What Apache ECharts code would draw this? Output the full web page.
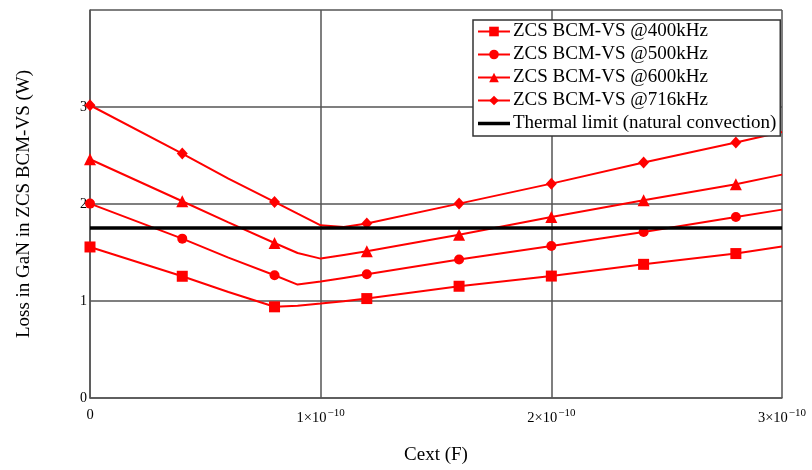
<!DOCTYPE html>
<html>
<head>
<meta charset="utf-8">
<script src="https://cdn.jsdelivr.net/npm/echarts@6/dist/echarts.min.js"></script>
<style>html,body{margin:0;padding:0;background:#fff;}#c{width:812px;height:470px;}</style>
</head>
<body>
<div id="c"></div>
<script>
// Cext in units of 1e-12 F (pF)
var cext = [0, 40, 60, 80, 90, 100, 110, 120, 160, 200, 240, 280, 300];
var markerCext = [0, 40, 80, 120, 160, 200, 240, 280];
var loss400 = [1.557, 1.255, 1.093, 0.940, 0.950, 0.973, 0.998, 1.025, 1.152, 1.257, 1.378, 1.489, 1.562];
var loss500 = [2.004, 1.643, 1.447, 1.265, 1.169, 1.200, 1.238, 1.275, 1.427, 1.567, 1.711, 1.866, 1.942];
var loss600 = [2.461, 2.028, 1.810, 1.598, 1.495, 1.437, 1.475, 1.512, 1.684, 1.866, 2.038, 2.203, 2.303];
var loss716 = [3.018, 2.520, 2.262, 2.021, 1.900, 1.780, 1.763, 1.800, 2.004, 2.210, 2.427, 2.633, 2.742];
var thermalLimit = 1.753;
var seriesNames = ['ZCS BCM-VS @400kHz', 'ZCS BCM-VS @500kHz', 'ZCS BCM-VS @600kHz', 'ZCS BCM-VS @716kHz'];
var thermalName = 'Thermal limit (natural convection)';
var xTickLabels = {0: '0', 100: '1×10', 200: '2×10', 300: '3×10'};
var xTickExp = '−10';

var serif = 'Liberation Serif';
var red = '#ff0000';
var symbols = ['rect', 'circle', 'triangle', 'diamond'];
var symbolSizes = [11, 10, 12, [11, 12]];
var lossSets = [loss400, loss500, loss600, loss716];

function buildData(vals) {
  return cext.map(function (x, i) {
    var item = {value: [x, vals[i]]};
    if (markerCext.indexOf(x) < 0) item.symbol = 'none';
    return item;
  });
}

var series = lossSets.map(function (vals, k) {
  return {
    name: seriesNames[k],
    type: 'line',
    data: buildData(vals),
    symbol: symbols[k],
    symbolSize: symbolSizes[k],
    showSymbol: true,
    lineStyle: {color: red, width: 2},
    itemStyle: {color: red},
    animation: false,
    z: 3
  };
});
series.push({
  name: thermalName,
  type: 'line',
  data: [[0, thermalLimit], [300, thermalLimit]],
  symbol: 'none',
  lineStyle: {color: '#000', width: 3.5},
  itemStyle: {color: '#000'},
  animation: false,
  z: 4
});

var legendData = seriesNames.map(function (n) { return {name: n}; });
legendData.push({name: thermalName, icon: 'path://M0,0H32V3.5H0Z'});

var chart = echarts.init(document.getElementById('c'), null, {renderer: 'canvas'});
chart.setOption({
  backgroundColor: '#fff',
  animation: false,
  grid: {left: 90, right: 30, top: 10, bottom: 72, containLabel: false},
  legend: {
    left: 473, top: 20,
    orient: 'vertical',
    backgroundColor: '#fff',
    borderColor: '#333',
    borderWidth: 1.5,
    padding: [2, 4, 3, 4],
    itemGap: 4,
    itemWidth: 32,
    itemHeight: 12,
    textStyle: {fontFamily: serif, fontSize: 19, color: '#000', padding: [0, 0, 0, -2], width: 252, overflow: 'none'},
    data: legendData,
    z: 10
  },
  xAxis: {
    type: 'value',
    min: 0, max: 300, interval: 100,
    name: 'Cext (F)',
    nameLocation: 'middle',
    nameGap: 48,
    nameTextStyle: {fontFamily: serif, fontSize: 19, color: '#000'},
    axisLine: {show: true, lineStyle: {color: '#555', width: 1.5}},
    axisTick: {show: false},
    splitLine: {show: true, lineStyle: {color: '#555', width: 1.5}},
    axisLabel: {
      margin: 10,
      formatter: function (v) {
        if (v === 0) return '{a|0}';
        return '{a|' + xTickLabels[v] + '}{b|' + xTickExp + '}';
      },
      rich: {
        a: {fontFamily: serif, fontSize: 14.5, color: '#000'},
        b: {fontFamily: serif, fontSize: 11, color: '#000', verticalAlign: 'top', padding: [0, 0, 9, 1]}
      }
    }
  },
  yAxis: {
    type: 'value',
    min: 0, max: 4, interval: 1,
    name: 'Loss in GaN in ZCS BCM-VS (W)',
    nameLocation: 'middle',
    nameGap: 56,
    nameRotate: 90,
    nameTextStyle: {fontFamily: serif, fontSize: 19, color: '#000'},
    axisLine: {show: true, lineStyle: {color: '#555', width: 1.5}},
    axisTick: {show: false},
    splitLine: {show: true, lineStyle: {color: '#555', width: 1.5}},
    axisLabel: {
      margin: 3,
      showMaxLabel: false,
      fontFamily: serif, fontSize: 14, color: '#000',
      formatter: function (v) { return v === 4 ? '' : String(v); }
    }
  },
  series: series
});
</script>
</body>
</html>
